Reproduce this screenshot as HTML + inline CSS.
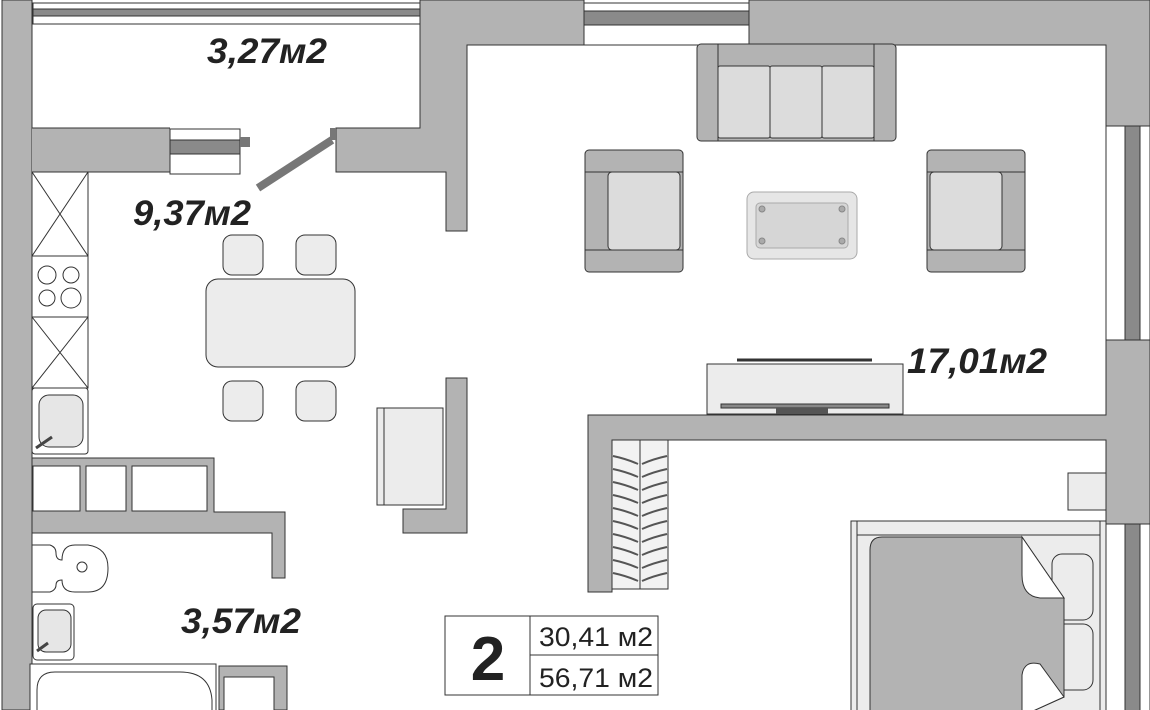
<!DOCTYPE html>
<html><head><meta charset="utf-8"><style>html,body{margin:0;padding:0;background:#fff}svg{display:block}
.t{font-family:"Liberation Sans",sans-serif;font-weight:bold;font-style:italic;fill:#222}
.n{font-family:"Liberation Sans",sans-serif;fill:#222}</style></head><body>
<svg width="1150" height="710" viewBox="0 0 1150 710" xmlns="http://www.w3.org/2000/svg">
<g stroke="#333" stroke-width="1">
<rect x="2" y="0" width="30" height="710" fill="#b3b3b3"/>
<rect x="33" y="3" width="387" height="21" fill="#fff"/>
<rect x="33" y="9" width="387" height="7" fill="#8a8a8a"/>
<polygon points="420,0 584,0 584,45 467,45 467,231 446,231 446,172 336,172 336,128 420,128" fill="#b3b3b3"/>
<rect x="32" y="128" width="138" height="44" fill="#b3b3b3" stroke="none"/>
<line x1="32" y1="128" x2="170" y2="128"/><line x1="88" y1="172" x2="170" y2="172"/>
<rect x="170" y="129" width="70" height="45" fill="#fff"/>
<rect x="170" y="140" width="70" height="14" fill="#8a8a8a"/>
<rect x="240" y="137" width="10" height="10" fill="#777" stroke="none"/>
<rect x="330" y="128" width="6" height="12" fill="#777" stroke="none"/>
<line x1="258" y1="188" x2="332" y2="140" stroke="#777" stroke-width="8"/>
<rect x="584" y="3" width="165" height="42" fill="#fff"/>
<rect x="584" y="11" width="165" height="14" fill="#8a8a8a"/>
<polygon points="749,0 1150,0 1150,126 1106,126 1106,45 749,45" fill="#b3b3b3"/>
<rect x="1106" y="126" width="44" height="214" fill="#fff"/>
<rect x="1125" y="126" width="15" height="214" fill="#8a8a8a"/>
<polygon points="1106,340 1150,340 1150,524 1106,524 1106,440 612,440 612,592 588,592 588,415 1106,415" fill="#b3b3b3"/>
<rect x="1106" y="524" width="44" height="190" fill="#fff"/>
<rect x="1125" y="524" width="15" height="190" fill="#8a8a8a"/>
<rect x="697" y="44" width="199" height="97" rx="4" fill="#b3b3b3"/>
<rect x="718" y="66" width="52" height="72" rx="2" fill="#dcdcdc"/>
<rect x="770" y="66" width="52" height="72" rx="2" fill="#dcdcdc"/>
<rect x="822" y="66" width="52" height="72" rx="2" fill="#dcdcdc"/>
<line x1="718" y1="44" x2="718" y2="141"/><line x1="874" y1="44" x2="874" y2="141"/>
<rect x="585" y="150" width="98" height="122" rx="4" fill="#b3b3b3"/>
<line x1="585" y1="172" x2="683" y2="172"/><line x1="585" y1="250" x2="683" y2="250"/>
<rect x="608" y="172" width="72" height="78" rx="4" fill="#dcdcdc"/>
<rect x="927" y="150" width="98" height="122" rx="4" fill="#b3b3b3"/>
<line x1="927" y1="172" x2="1025" y2="172"/><line x1="927" y1="250" x2="1025" y2="250"/>
<rect x="930" y="172" width="72" height="78" rx="4" fill="#dcdcdc"/>
<rect x="747" y="192" width="110" height="67" rx="7" fill="#e6e6e6" stroke="#aaa"/>
<rect x="756" y="203" width="92" height="45" rx="4" fill="#d6d6d6" stroke="#aaa"/>
<g fill="#aaa" stroke="#888"><circle cx="762" cy="209" r="3"/><circle cx="842" cy="209" r="3"/><circle cx="762" cy="241" r="3"/><circle cx="842" cy="241" r="3"/></g>
<rect x="707" y="364" width="196" height="50" fill="#ececec"/>
<line x1="737" y1="360" x2="872" y2="360" stroke-width="3"/>
<rect x="721" y="404" width="168" height="4" fill="#888"/>
<rect x="776" y="408" width="52" height="6" fill="#555" stroke="none"/>
<rect x="612" y="440" width="56" height="149" fill="#f2f2f2"/>
<line x1="640" y1="440" x2="640" y2="589"/>
<g fill="none" stroke="#555" stroke-width="2">
<path d="M613,456 q14,3 25,8 M613,469 q14,3 25,8 M613,482 q14,3 25,8 M613,495 q14,3 25,8 M613,508 q14,3 25,8 M613,521 q14,3 25,8 M613,534 q14,3 25,8 M613,547 q14,3 25,8 M613,560 q14,3 25,8 M613,573 q14,3 25,8"/>
<path d="M667,456 q-14,3 -25,8 M667,469 q-14,3 -25,8 M667,482 q-14,3 -25,8 M667,495 q-14,3 -25,8 M667,508 q-14,3 -25,8 M667,521 q-14,3 -25,8 M667,534 q-14,3 -25,8 M667,547 q-14,3 -25,8 M667,560 q-14,3 -25,8 M667,573 q-14,3 -25,8"/>
</g>
<rect x="1068" y="473" width="38" height="37" fill="#ececec"/>
<rect x="851" y="521" width="255" height="195" fill="#ececec"/>
<line x1="857" y1="521" x2="857" y2="710"/><line x1="857" y1="535" x2="1100" y2="535"/><line x1="1100" y1="521" x2="1100" y2="710"/>
<rect x="1052" y="554" width="41" height="66" rx="10" fill="#ececec"/>
<rect x="1052" y="624" width="41" height="66" rx="10" fill="#ececec"/>
<path d="M882,537 L1022,537 L1064,598 L1064,697 L1022,716 L870,716 L870,550 Q870,537 882,537Z" fill="#b3b3b3"/>
<path d="M1022,537 L1064,598 L1040,598 Q1022,596 1022,575Z" fill="#fff"/>
<path d="M1064,697 L1022,716 L1022,675 Q1024,660 1040,664 Z" fill="#fff"/>
<rect x="32" y="172" width="56" height="84" fill="#fff"/>
<path d="M32,172 L88,256 M88,172 L32,256"/>
<rect x="32" y="256" width="56" height="61" fill="#fff"/>
<circle cx="47" cy="275" r="9" fill="none"/><circle cx="71" cy="275" r="8" fill="none"/>
<circle cx="47" cy="298" r="8" fill="none"/><circle cx="71" cy="298" r="10" fill="none"/>
<rect x="32" y="317" width="56" height="71" fill="#fff"/>
<path d="M32,317 L88,388 M88,317 L32,388"/>
<rect x="32" y="388" width="56" height="66" rx="3" fill="#fff"/>
<rect x="39" y="395" width="44" height="52" rx="10" fill="#e6e6e6"/>
<line x1="36" y1="448" x2="52" y2="437" stroke="#444" stroke-width="3"/>
<polygon points="32,458 214,458 214,512 285,512 285,578 272,578 272,533 32,533" fill="#b3b3b3"/>
<rect x="33" y="466" width="47" height="45" fill="#fff"/>
<rect x="86" y="466" width="40" height="45" fill="#fff"/>
<rect x="132" y="466" width="75" height="45" fill="#fff"/>
<rect x="206" y="279" width="149" height="88" rx="12" fill="#ececec"/>
<rect x="223" y="235" width="40" height="40" rx="9" fill="#ececec"/>
<rect x="296" y="235" width="40" height="40" rx="9" fill="#ececec"/>
<rect x="223" y="381" width="40" height="40" rx="9" fill="#ececec"/>
<rect x="296" y="381" width="40" height="40" rx="9" fill="#ececec"/>
<polygon points="446,378 467,378 467,533 403,533 403,509 446,509" fill="#b3b3b3"/>
<rect x="377" y="408" width="66" height="97" fill="#ececec"/>
<line x1="384" y1="408" x2="384" y2="505"/>
<path d="M32,545 L50,545 Q56,547 56,553 Q56,560 62,560 Q62,545 75,545 L88,545 Q108,548 108,568 Q108,592 88,592 L75,592 Q62,592 62,580 Q56,580 56,585 Q56,590 50,592 L32,592Z" fill="#fff"/>
<circle cx="82" cy="567" r="5" fill="none"/>
<rect x="33" y="604" width="41" height="56" rx="4" fill="#fff"/>
<rect x="38" y="610" width="33" height="42" rx="8" fill="#e6e6e6"/>
<line x1="37" y1="651" x2="48" y2="643" stroke="#444" stroke-width="3"/>
<rect x="30" y="664" width="186" height="60" fill="#fff"/>
<path d="M37,720 L37,690 Q37,672 55,672 L180,672 Q210,672 212,700 L212,720" fill="none"/>
<polygon points="219,666 287,666 287,710 274,710 274,677 224,677 224,710 219,710" fill="#b3b3b3"/>
<rect x="445" y="616" width="213" height="79" fill="#fff"/>
<line x1="530" y1="616" x2="530" y2="695"/><line x1="530" y1="655" x2="658" y2="655"/>
</g>
<text class="n" x="488" y="680" font-size="62" font-weight="bold" text-anchor="middle">2</text>
<text class="n" x="539" y="646" font-size="27" textLength="114" lengthAdjust="spacingAndGlyphs">30,41 м2</text>
<text class="n" x="539" y="687" font-size="27" textLength="114" lengthAdjust="spacingAndGlyphs">56,71 м2</text>
<text class="t" x="207" y="63" font-size="35" textLength="120" lengthAdjust="spacingAndGlyphs">3,27м2</text>
<text class="t" x="133" y="225" font-size="35" textLength="118" lengthAdjust="spacingAndGlyphs">9,37м2</text>
<text class="t" x="907" y="373" font-size="35" textLength="140" lengthAdjust="spacingAndGlyphs">17,01м2</text>
<text class="t" x="181" y="633" font-size="35" textLength="120" lengthAdjust="spacingAndGlyphs">3,57м2</text>
</svg>
</body></html>
